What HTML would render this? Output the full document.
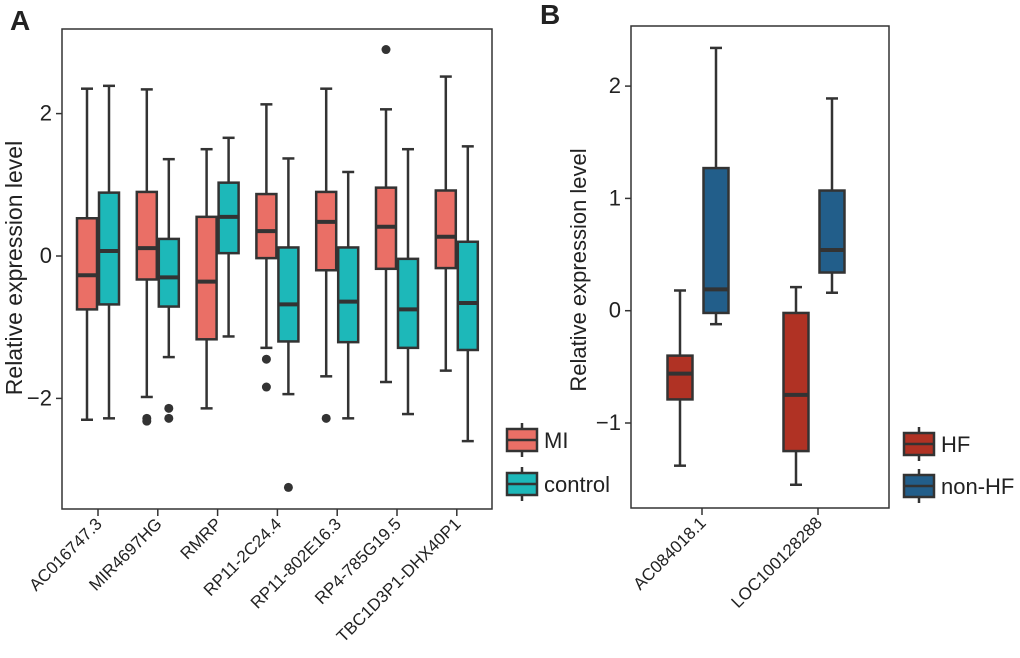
<!DOCTYPE html>
<html><head><meta charset="utf-8"><style>
body{margin:0;background:#fff;}
svg text{font-family:"Liberation Sans",Arial,sans-serif;fill:#222;}
</style></head><body>
<svg id="c" width="1020" height="653" xmlns="http://www.w3.org/2000/svg">
<text x="10" y="30" font-size="28" font-weight="bold">A</text>
<text x="540" y="24" font-size="28" font-weight="bold">B</text>
<g id="pa"></g>
<g id="pb"></g>
</svg>
<script>
const catsA=["AC016747.3","MIR4697HG","RMRP","RP11-2C24.4","RP11-802E16.3","RP4-785G19.5","TBC1D3P1-DHX40P1"];
// [low, q1, median, q3, high]
const miStats=[[-2.3,-0.75,-0.27,0.53,2.35],[-1.98,-0.33,0.11,0.9,2.34],[-2.14,-1.17,-0.36,0.55,1.5],[-1.29,-0.03,0.35,0.87,2.13],[-1.69,-0.2,0.48,0.9,2.35],[-1.77,-0.18,0.41,0.96,2.06],[-1.61,-0.17,0.27,0.92,2.52]];
const ctrlStats=[[-2.28,-0.68,0.07,0.89,2.39],[-1.42,-0.71,-0.3,0.24,1.36],[-1.13,0.04,0.55,1.03,1.66],[-1.94,-1.2,-0.68,0.12,1.37],[-2.28,-1.21,-0.64,0.12,1.18],[-2.22,-1.29,-0.75,-0.04,1.5],[-2.6,-1.32,-0.66,0.2,1.54]];
const miOut=[[],[-2.28,-2.32],[],[-1.45,-1.84],[-2.28],[2.9],[]];
const ctrlOut=[[],[-2.14,-2.28],[],[-3.25],[],[],[]];
const ticksA=[-2,0,2];
const catsB=["AC084018.1","LOC100128288"];
const hfStats=[[-1.38,-0.79,-0.56,-0.4,0.18],[-1.55,-1.25,-0.75,-0.02,0.21]];
const nonStats=[[-0.12,-0.02,0.19,1.27,2.34],[0.16,0.34,0.54,1.07,1.89]];
const ticksB=[-1,0,1,2];

const NS="http://www.w3.org/2000/svg";
function mk(p,t,a){const e=document.createElementNS(NS,t);for(const k in a)e.setAttribute(k,a[k]);p.appendChild(e);return e;}
const yA=v=>256-v*71.2;
const xA=i=>98+i*59.8;
const yB=v=>310.7-v*112.3;
const xB=i=>702+i*116;

function box(g,cx,w,s,y,fill,name){
  const gg=mk(g,'g',{});
  
  
  const c='#333';
  mk(gg,'line',{x1:cx,x2:cx,y1:y(s[4]),y2:y(s[3]),stroke:c,'stroke-width':2.5});
  mk(gg,'line',{x1:cx,x2:cx,y1:y(s[1]),y2:y(s[0]),stroke:c,'stroke-width':2.5});
  mk(gg,'line',{x1:cx-6,x2:cx+6,y1:y(s[4]),y2:y(s[4]),stroke:c,'stroke-width':2.5});
  mk(gg,'line',{x1:cx-6,x2:cx+6,y1:y(s[0]),y2:y(s[0]),stroke:c,'stroke-width':2.5});
  mk(gg,'rect',{x:cx-w/2,y:y(s[3]),width:w,height:y(s[1])-y(s[3]),fill:fill,stroke:c,'stroke-width':2.5});
  mk(gg,'line',{x1:cx-w/2,x2:cx+w/2,y1:y(s[2]),y2:y(s[2]),stroke:c,'stroke-width':4});
}
function legend(g,x,y,fill,label,name){
  const gg=mk(g,'g',{});
  
  
  mk(gg,'line',{x1:x+15,x2:x+15,y1:y-17,y2:y+17,stroke:'#333','stroke-width':2.5});
  mk(gg,'rect',{x:x,y:y-11,width:30,height:22,fill:fill,stroke:'#333','stroke-width':2.5});
  mk(gg,'line',{x1:x,x2:x+30,y1:y,y2:y,stroke:'#333','stroke-width':2.5});
  const t=mk(gg,'text',{x:x+37,y:y+8,'font-size':22});t.textContent=label;
}

// Panel A
const pa=document.getElementById('pa');
const fa=mk(pa,'rect',{x:62,y:29,width:430,height:480,fill:'none',stroke:'#333','stroke-width':1.5});


ticksA.forEach(v=>{
  mk(pa,'line',{x1:56,x2:62,y1:yA(v),y2:yA(v),stroke:'#333','stroke-width':1.5});
  const t=mk(pa,'text',{x:52,y:yA(v)+7,'font-size':22,'text-anchor':'end'});
  
  
  t.textContent=v<0?'\u2212'+(-v):v;
});
const ta=mk(pa,'text',{x:0,y:0,'font-size':23,'text-anchor':'middle',transform:'translate(22,268) rotate(-90)'});


ta.textContent='Relative expression level';
catsA.forEach((c,i)=>{
  const x=xA(i);
  mk(pa,'line',{x1:x,x2:x,y1:509,y2:516,stroke:'#333','stroke-width':1.5});
  const t=mk(pa,'text',{x:0,y:0,'font-size':17,'text-anchor':'end',transform:`translate(${x+5},${525}) rotate(-45)`});
  
  
  t.textContent=c;
  box(pa,x-11,20,miStats[i],yA,'#ea6f66','box-mi-'+i);
  box(pa,x+11,20,ctrlStats[i],yA,'#1db8b9','box-control-'+i);
  miOut[i].forEach(v=>{const o=mk(pa,'circle',{cx:x-11,cy:yA(v),r:4.5,fill:'#333'});});
  ctrlOut[i].forEach(v=>{const o=mk(pa,'circle',{cx:x+11,cy:yA(v),r:4.5,fill:'#333'});});
});
legend(pa,507,440,'#ea6f66','MI','legend-mi');
legend(pa,507,484,'#1db8b9','control','legend-control');

// Panel B
const pb=document.getElementById('pb');
const fb=mk(pb,'rect',{x:631,y:26,width:258,height:482,fill:'none',stroke:'#333','stroke-width':1.5});


ticksB.forEach(v=>{
  mk(pb,'line',{x1:625,x2:631,y1:yB(v),y2:yB(v),stroke:'#333','stroke-width':1.5});
  const t=mk(pb,'text',{x:621,y:yB(v)+7,'font-size':22,'text-anchor':'end'});
  
  
  t.textContent=v<0?'\u2212'+(-v):v;
});
const tb=mk(pb,'text',{x:0,y:0,'font-size':22,'text-anchor':'middle',transform:'translate(586,270) rotate(-90)'});


tb.textContent='Relative expression level';
catsB.forEach((c,i)=>{
  const x=xB(i);
  mk(pb,'line',{x1:x,x2:x,y1:508,y2:515,stroke:'#333','stroke-width':1.5});
  const t=mk(pb,'text',{x:0,y:0,'font-size':17,'text-anchor':'end',transform:`translate(${x+5},${524}) rotate(-45)`});
  
  
  t.textContent=c;
  box(pb,x-22,25,hfStats[i],yB,'#b03224','box-hf-'+i);
  box(pb,x+14,25,nonStats[i],yB,'#225e8a','box-nonhf-'+i);
});
legend(pb,904,444,'#b03224','HF','legend-hf');
legend(pb,904,486,'#225e8a','non-HF','legend-nonhf');
</script>
</body></html>
